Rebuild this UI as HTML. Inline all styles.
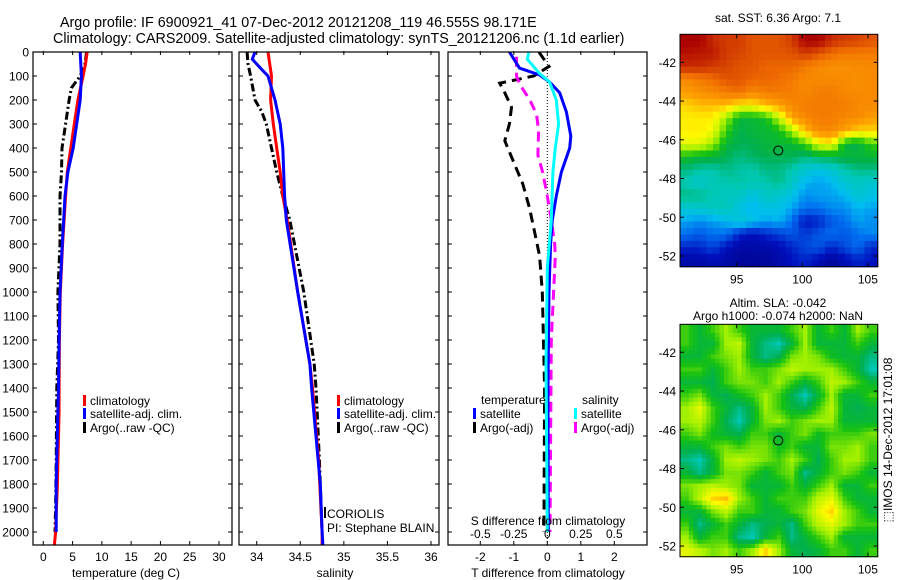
<!DOCTYPE html>
<html><head><meta charset="utf-8"><style>
html,body{margin:0;padding:0;background:#fff;}
svg{display:block;font-family:"Liberation Sans",sans-serif;}
</style></head><body>
<svg id="fig" width="900" height="580" viewBox="0 0 900 580" xmlns="http://www.w3.org/2000/svg">
<text x="60" y="27" font-size="14.3">Argo profile: IF 6900921_41 07-Dec-2012 20121208_119 46.555S 98.171E</text>
<text x="53" y="43" font-size="14.3">Climatology: CARS2009. Satellite-adjusted climatology: synTS_20121206.nc (1.1d earlier)</text>
<g id="g1"></g>
<g id="g2"></g>
<g id="g3"></g>
<g id="g4"></g>
<g id="g5"></g>
<text x="778" y="22" font-size="12" text-anchor="middle">sat. SST: 6.36 Argo: 7.1</text>
<text x="778" y="307" font-size="12" text-anchor="middle">Altim. SLA: -0.042</text>
<text x="778" y="320" font-size="12" text-anchor="middle">Argo h1000: -0.074 h2000: NaN</text>
<text x="0" y="0" font-size="12" text-anchor="middle" transform="translate(892,440) rotate(-90)">⬚IMOS 14-Dec-2012 17:01:08</text>
</svg>
<script>
// ---- Data ----
const depthTicks = [0,100,200,300,400,500,600,700,800,900,1000,1100,1200,1300,1400,1500,1600,1700,1800,1900,2000];
const tTicks = [0,5,10,15,20,25,30];
const sTicks = [34,34.5,35,35.5,36];
const sTickLabels = ["34","34.5","35","35.5","36"];
const dTTicks = [-2,-1,0,1,2];
const dSTicks = [-0.5,-0.25,0,0.25,0.5];
const dSTickLabels = ["-0.5","-0.25","0","0.25","0.5"];

const tClimDepth = [0,50,100,200,300,400,500,600,800,1000,1200,1400,1500,1600,1800,2000,2054];
const tClim      = [7.5,7.2,6.8,5.9,5.3,4.7,4.1,3.8,3.3,2.9,2.75,2.7,2.7,2.6,2.4,2.1,1.9];
const tSatDepth  = [0,100,200,300,400,500,600,800,1000,1200,1400,1500,1800,2000];
const tSat       = [6.3,6.5,6.3,5.7,5.1,4.2,3.7,3.25,2.85,2.7,2.6,2.5,2.2,2.2];
const tArgoDepth = [0,50,100,150,200,300,400,500,600,800,1000,1200,1400,1700,1900,2000];
const tArgo      = [7.4,7.1,6.3,4.8,4.4,3.8,3.2,3.1,2.85,2.85,2.5,2.6,2.3,2.2,2.1,2.0];

const sClimDepth = [0,100,200,300,400,500,600,700,1000,1300,1400,1700,2000,2054];
const sClim      = [34.13,34.17,34.16,34.19,34.23,34.27,34.3,34.35,34.47,34.61,34.64,34.71,34.75,34.75];
const sSatDepth  = [0,30,70,100,200,300,400,600,700,1000,1300,1400,1800,2000,2054];
const sSat       = [33.98,33.95,34.05,34.13,34.21,34.27,34.3,34.32,34.34,34.47,34.61,34.63,34.73,34.75,34.76];
const sArgoDepth = [0,50,100,200,250,300,400,500,600,700,1000,1300,1400,1700,1900,2000];
const sArgo      = [33.89,33.9,33.93,33.98,34.06,34.11,34.17,34.23,34.3,34.38,34.54,34.66,34.68,34.72,34.74,34.75];

const dTSatDepth = [0,67,96,125,170,250,350,400,500,600,700,800,1000,1400,2000];
const dTSat      = [-1.13,-0.83,-0.23,0.07,0.37,0.57,0.7,0.67,0.42,0.27,0.15,0.1,0.05,0.02,0.03];
const dTArgoDepth= [0,30,60,100,130,170,230,300,370,450,550,650,750,850,1000,1400,2000];
const dTArgo     = [-0.25,-0.1,0.05,-0.4,-1.42,-1.27,-1.07,-1.13,-1.27,-1.03,-0.73,-0.53,-0.38,-0.23,-0.15,-0.08,-0.1];
const dSSatDepth = [0,30,90,125,200,300,400,500,700,900,1300,2000];
const dSSat      = [-0.137,-0.15,-0.057,0.017,0.067,0.084,0.06,0.042,0.03,0.0,-0.01,0.0];
const dSArgoDepth= [20,100,140,200,260,330,430,500,600,700,800,850,1200,2000];
const dSArgo     = [-0.23,-0.23,-0.2,-0.13,-0.08,-0.065,-0.07,-0.035,0.0,0.03,0.055,0.06,0.03,0.02];

const lonTicks = [95,100,105];
const latTicks = [-42,-44,-46,-48,-50,-52];
const argoLon = [98.171];
const argoLat = [-46.555];

const sstGrid = [
[0.95,0.95,0.9,0.88,0.88,0.85,0.85,0.85,0.88,0.95,0.95,0.9,0.88,0.87,0.85],
[0.93,0.92,0.92,0.88,0.87,0.85,0.85,0.85,0.85,0.88,0.85,0.82,0.8,0.8,0.8],
[0.9,0.9,0.88,0.87,0.85,0.85,0.83,0.83,0.83,0.8,0.78,0.77,0.77,0.78,0.78],
[0.78,0.8,0.82,0.85,0.85,0.83,0.83,0.82,0.8,0.78,0.78,0.78,0.78,0.77,0.78],
[0.75,0.77,0.78,0.8,0.82,0.78,0.8,0.8,0.8,0.78,0.8,0.8,0.78,0.78,0.78],
[0.7,0.72,0.72,0.72,0.68,0.68,0.72,0.75,0.78,0.8,0.8,0.8,0.8,0.78,0.78],
[0.68,0.68,0.68,0.6,0.5,0.5,0.52,0.62,0.75,0.78,0.8,0.8,0.78,0.78,0.75],
[0.68,0.68,0.66,0.55,0.48,0.5,0.5,0.52,0.6,0.72,0.78,0.78,0.75,0.7,0.7],
[0.65,0.65,0.6,0.5,0.48,0.48,0.5,0.5,0.5,0.55,0.65,0.68,0.5,0.48,0.55],
[0.52,0.5,0.5,0.48,0.45,0.47,0.48,0.48,0.48,0.45,0.48,0.48,0.5,0.5,0.5],
[0.45,0.43,0.42,0.45,0.43,0.42,0.45,0.45,0.42,0.38,0.35,0.38,0.42,0.45,0.45],
[0.42,0.38,0.42,0.42,0.43,0.42,0.42,0.45,0.4,0.32,0.3,0.32,0.38,0.4,0.38],
[0.45,0.45,0.42,0.4,0.4,0.35,0.4,0.38,0.35,0.28,0.3,0.3,0.32,0.38,0.35],
[0.38,0.38,0.4,0.42,0.35,0.32,0.35,0.35,0.3,0.25,0.25,0.28,0.28,0.32,0.3],
[0.3,0.28,0.3,0.32,0.38,0.35,0.3,0.32,0.25,0.12,0.15,0.22,0.25,0.3,0.28],
[0.25,0.22,0.25,0.25,0.15,0.1,0.15,0.18,0.22,0.18,0.22,0.25,0.22,0.25,0.28],
[0.15,0.15,0.2,0.12,0.07,0.08,0.08,0.1,0.15,0.2,0.22,0.15,0.2,0.25,0.15],
[0.08,0.08,0.1,0.08,0.05,0.05,0.05,0.08,0.12,0.15,0.1,0.05,0.1,0.15,0.12]];
const slaGrid = [
[0.55,0.5,0.55,0.6,0.55,0.5,0.5,0.5,0.55,0.6,0.5,0.55,0.5,0.6,0.55],
[0.55,0.5,0.5,0.6,0.62,0.5,0.45,0.42,0.5,0.6,0.5,0.5,0.5,0.55,0.5],
[0.5,0.5,0.55,0.58,0.6,0.5,0.45,0.48,0.58,0.6,0.58,0.52,0.5,0.5,0.45],
[0.55,0.55,0.5,0.55,0.6,0.55,0.55,0.58,0.62,0.6,0.6,0.6,0.55,0.5,0.42],
[0.5,0.5,0.48,0.55,0.58,0.58,0.55,0.6,0.55,0.5,0.55,0.62,0.6,0.55,0.5],
[0.55,0.58,0.5,0.48,0.52,0.55,0.6,0.55,0.48,0.42,0.5,0.6,0.5,0.5,0.55],
[0.6,0.65,0.55,0.5,0.45,0.5,0.6,0.55,0.5,0.48,0.55,0.62,0.5,0.48,0.5],
[0.6,0.62,0.55,0.48,0.42,0.5,0.58,0.6,0.55,0.58,0.6,0.6,0.5,0.5,0.5],
[0.55,0.58,0.52,0.5,0.48,0.55,0.55,0.5,0.55,0.58,0.52,0.55,0.55,0.55,0.58],
[0.5,0.5,0.55,0.58,0.55,0.58,0.58,0.52,0.55,0.5,0.5,0.58,0.58,0.6,0.55],
[0.45,0.42,0.5,0.6,0.62,0.6,0.58,0.55,0.6,0.55,0.48,0.55,0.6,0.6,0.55],
[0.5,0.45,0.5,0.58,0.58,0.55,0.5,0.55,0.58,0.45,0.5,0.55,0.58,0.55,0.5],
[0.58,0.6,0.62,0.6,0.58,0.5,0.5,0.5,0.55,0.5,0.55,0.6,0.5,0.5,0.55],
[0.55,0.62,0.7,0.72,0.6,0.55,0.5,0.55,0.55,0.55,0.62,0.65,0.55,0.5,0.5],
[0.5,0.5,0.58,0.62,0.55,0.55,0.5,0.5,0.55,0.58,0.65,0.7,0.6,0.55,0.5],
[0.55,0.45,0.5,0.55,0.5,0.45,0.48,0.5,0.45,0.55,0.62,0.65,0.6,0.55,0.55],
[0.6,0.5,0.55,0.55,0.45,0.42,0.5,0.55,0.45,0.5,0.55,0.6,0.5,0.5,0.5],
[0.65,0.62,0.58,0.6,0.55,0.6,0.7,0.6,0.5,0.48,0.5,0.55,0.55,0.5,0.55]];

// ---- helpers ----
const NS="http://www.w3.org/2000/svg";
function mk(parent,tag,attrs,txt){const e=document.createElementNS(NS,tag);for(const k in attrs)e.setAttribute(k,attrs[k]);if(txt!==undefined)e.textContent=txt;parent.appendChild(e);return e;}
const PT=52, PB=545;
function yD(d){return PT+d*0.24;}
function lin(v0,p0,v1,p1){return v=>p0+(v-v0)*(p1-p0)/(v1-v0);}

function frame(g,L,R,T,B){
  const f=mk(g,'rect',{x:L,y:T,width:R-L,height:B-T,fill:'none',stroke:'#000','stroke-width':1.2});
  
  
}
function depthAxis(g,L,R,labels){
  depthTicks.forEach(d=>{
    const y=yD(d);
    mk(g,'line',{x1:L,x2:L+4,y1:y,y2:y,stroke:'#000'});
    mk(g,'line',{x1:R-4,x2:R,y1:y,y2:y,stroke:'#000'});
    if(labels){const t=mk(g,'text',{x:L-4,y:y+4.5,'font-size':12,'text-anchor':'end'},String(d));
      
      }
  });
}
function xTicks(g,fx,ticks,labels,L,R,labelY,both){
  ticks.forEach((v,i)=>{const x=fx(v);
    mk(g,'line',{x1:x,x2:x,y1:PB-4,y2:PB,stroke:'#000'});
    if(both)mk(g,'line',{x1:x,x2:x,y1:PT-1,y2:PT+3,stroke:'#000'});
    if(labels){const t=mk(g,'text',{x:x,y:labelY,'font-size':12,'text-anchor':'middle'},labels[i]);
      
      }
  });
}
function series(g,fx,vals,depths,color,dash,name){
  let d='';
  vals.forEach((v,i)=>{d+=(i?'L':'M')+fx(v).toFixed(1)+' '+yD(depths[i]).toFixed(1);});
  const p=mk(g,'path',{d:d,fill:'none',stroke:color,'stroke-width':3,'stroke-dasharray':dash||'none'});
  
  
}
function legendEntry(g,x,y,color,label,name){
  mk(g,'rect',{x:x,y:y-9,width:3,height:11,fill:color});
  const t=mk(g,'text',{x:x+7,y:y+1,'font-size':12},label);
  
  
}
function clip(g,id,L,R){const c=mk(g,'clipPath',{id:id});mk(c,'rect',{x:L,y:PT,width:R-L,height:PB-PT});}

// ---- Panel 1: temperature ----
(function(){
  const g=document.getElementById('g1');const L=33,R=232;
  const fx=lin(0,43.3,30,219);
  clip(g,'c1',L,R);
  const s=mk(g,'g',{'clip-path':'url(#c1)'});
  series(s,fx,tArgo,tArgoDepth,'#000','8 3 2 3','temp-argo-line');
  series(s,fx,tClim,tClimDepth,'#f00',null,'temp-climatology-line');
  series(s,fx,tSat,tSatDepth,'#00f',null,'temp-satellite-line');
  frame(g,L,R,PT,PB);depthAxis(g,L,R,true);
  xTicks(g,fx,tTicks,tTicks.map(String),L,R,561,true);
  const xl=mk(g,'text',{x:126,y:577,'font-size':12,'text-anchor':'middle'},'temperature (deg C)');
  
  
  legendEntry(g,83,404,'#f00','climatology','legend-climatology');
  legendEntry(g,83,417,'#00f','satellite-adj. clim.','legend-satellite');
  legendEntry(g,83,431,'#000','Argo(..raw -QC)','legend-argo');
})();

// ---- Panel 2: salinity ----
(function(){
  const g=document.getElementById('g2');const L=239,R=439;
  const fx=lin(34,256.7,36,431);
  clip(g,'c2',L,R);
  const s=mk(g,'g',{'clip-path':'url(#c2)'});
  series(s,fx,sArgo,sArgoDepth,'#000','8 3 2 3','sal-argo-line');
  series(s,fx,sClim,sClimDepth,'#f00',null,'sal-climatology-line');
  series(s,fx,sSat,sSatDepth,'#00f',null,'sal-satellite-line');
  frame(g,L,R,PT,PB);depthAxis(g,L,R,false);
  xTicks(g,fx,sTicks,sTickLabels,L,R,561,true);
  const xl=mk(g,'text',{x:335,y:577,'font-size':12,'text-anchor':'middle'},'salinity');
  
  
  legendEntry(g,337,404,'#f00','climatology','legend-climatology');
  legendEntry(g,337,417,'#00f','satellite-adj. clim.','legend-satellite');
  legendEntry(g,337,431,'#000','Argo(..raw -QC)','legend-argo');
  mk(g,'rect',{x:324,y:507,width:2,height:11,fill:'#000'});
  const t1=mk(g,'text',{x:327,y:518,'font-size':12},'CORIOLIS');
  
  
  const t2=mk(g,'text',{x:327,y:532,'font-size':12},'PI: Stephane BLAIN');
  
  
})();

// ---- Panel 3: differences ----
(function(){
  const g=document.getElementById('g3');const L=448,R=647;
  const fxT=lin(-2,480.3,2,614.3);
  const fxS=lin(-0.5,480.3,0.5,614.3);
  clip(g,'c3',L,R);
  const s=mk(g,'g',{'clip-path':'url(#c3)'});
  mk(s,'line',{x1:fxT(0),x2:fxT(0),y1:PT,y2:PB,stroke:'#000','stroke-dasharray':'1 2'});
  series(s,fxT,dTArgo,dTArgoDepth,'#000','10 6','dt-argo-line');
  series(s,fxS,dSArgo,dSArgoDepth,'#f0f','10 6','ds-argo-line');
  series(s,fxT,dTSat,dTSatDepth,'#00f',null,'dt-satellite-line');
  series(s,fxS,dSSat,dSSatDepth,'#0ff',null,'ds-satellite-line');
  frame(g,L,R,PT,PB);depthAxis(g,L,R,false);
  xTicks(g,fxT,dTTicks,dTTicks.map(String),L,R,561,true);
  dSTicks.forEach((v,i)=>{const t=mk(g,'text',{x:fxS(v),y:538,'font-size':12,'text-anchor':'middle'},dSTickLabels[i]);
    
    });
  const st=mk(g,'text',{x:548,y:525,'font-size':12,'text-anchor':'middle'},'S difference from climatology');
  
  
  const xl=mk(g,'text',{x:548,y:577,'font-size':12,'text-anchor':'middle'},'T difference from climatology');
  
  
  const h1=mk(g,'text',{x:481,y:404,'font-size':12},'temperature');
  
  
  const h2=mk(g,'text',{x:582,y:404,'font-size':12},'salinity');
  
  
  legendEntry(g,473,417,'#00f','satellite','legend-t-satellite');
  legendEntry(g,473,431,'#000','Argo(-adj)','legend-t-argo');
  legendEntry(g,574,417,'#0ff','satellite','legend-s-satellite');
  legendEntry(g,574,431,'#f0f','Argo(-adj)','legend-s-argo');
})();

// ---- Maps ----
const cmapStops=[[0,[0,0,128]],[0.12,[0,16,190]],[0.25,[0,110,240]],[0.33,[0,190,240]],[0.42,[0,200,180]],[0.48,[0,176,80]],[0.53,[20,192,20]],[0.6,[160,240,0]],[0.67,[255,250,0]],[0.74,[255,165,0]],[0.82,[240,110,0]],[0.88,[210,60,0]],[0.95,[170,0,0]],[1,[128,0,0]]];
function cmap(v){
  for(let i=1;i<cmapStops.length;i++){const a=cmapStops[i-1],b=cmapStops[i];
    if(v<=b[0]){const t=(v-a[0])/(b[0]-a[0]);const c=a[1].map((x,k)=>Math.round(x+(b[1][k]-x)*t));return 'rgb('+c.join(',')+')';}}
  return 'rgb(128,0,0)';
}
function sample(grid,r,c){
  const R=grid.length-1,C=grid[0].length-1;
  r=Math.max(0,Math.min(R,r));c=Math.max(0,Math.min(C,c));
  const r0=Math.floor(r),c0=Math.floor(c),r1=Math.min(R,r0+1),c1=Math.min(C,c0+1),fr=r-r0,fc=c-c0;
  return (grid[r0][c0]*(1-fc)+grid[r0][c1]*fc)*(1-fr)+(grid[r1][c0]*(1-fc)+grid[r1][c1]*fc)*fr;
}
function drawMap(gid,T,grid,pref,up){
  const g=document.getElementById(gid);
  const L=680,R=877.7,B=T+232.4;
  const fx=lin(95,736.7,100,802.3);
  const fy=lin(-42,T+28,-52,T+221.7);
  const rows=grid.length*up, cols=grid[0].length*up;
  const cw=(R-L)/cols, ch=(B-T)/rows;
  for(let r=0;r<rows;r++)for(let c=0;c<cols;c++){
    const v=sample(grid,(r+0.5)/up-0.5,(c+0.5)/up-0.5);
    const cell=mk(g,'rect',{x:(L+c*cw).toFixed(2),y:(T+r*ch).toFixed(2),width:(cw+0.6).toFixed(2),height:(ch+0.6).toFixed(2),fill:cmap(v)});
    
    
  }
  const fr=mk(g,'rect',{x:L,y:T,width:R-L,height:B-T,fill:'none',stroke:'#000','stroke-width':1});
  
  
  lonTicks.forEach(v=>{const x=fx(v);
    mk(g,'line',{x1:x,x2:x,y1:T,y2:T+4,stroke:'#000'});mk(g,'line',{x1:x,x2:x,y1:B-4,y2:B,stroke:'#000'});
    const t=mk(g,'text',{x:x,y:B+17,'font-size':12,'text-anchor':'middle'},String(v));
    
    });
  latTicks.forEach(v=>{const y=fy(v);
    mk(g,'line',{x1:L,x2:L+4,y1:y,y2:y,stroke:'#000'});mk(g,'line',{x1:R-4,x2:R,y1:y,y2:y,stroke:'#000'});
    const t=mk(g,'text',{x:L-4,y:y+4.5,'font-size':12,'text-anchor':'end'},String(v));
    
    });
  const m=mk(g,'circle',{cx:fx(argoLon[0]),cy:fy(argoLat[0]),r:4.5,fill:'none',stroke:'#000','stroke-width':1});
  
  
}
drawMap('g4',34.3,sstGrid,'sst',2);
drawMap('g5',324.3,slaGrid,'sla',3);
</script>
</body></html>
